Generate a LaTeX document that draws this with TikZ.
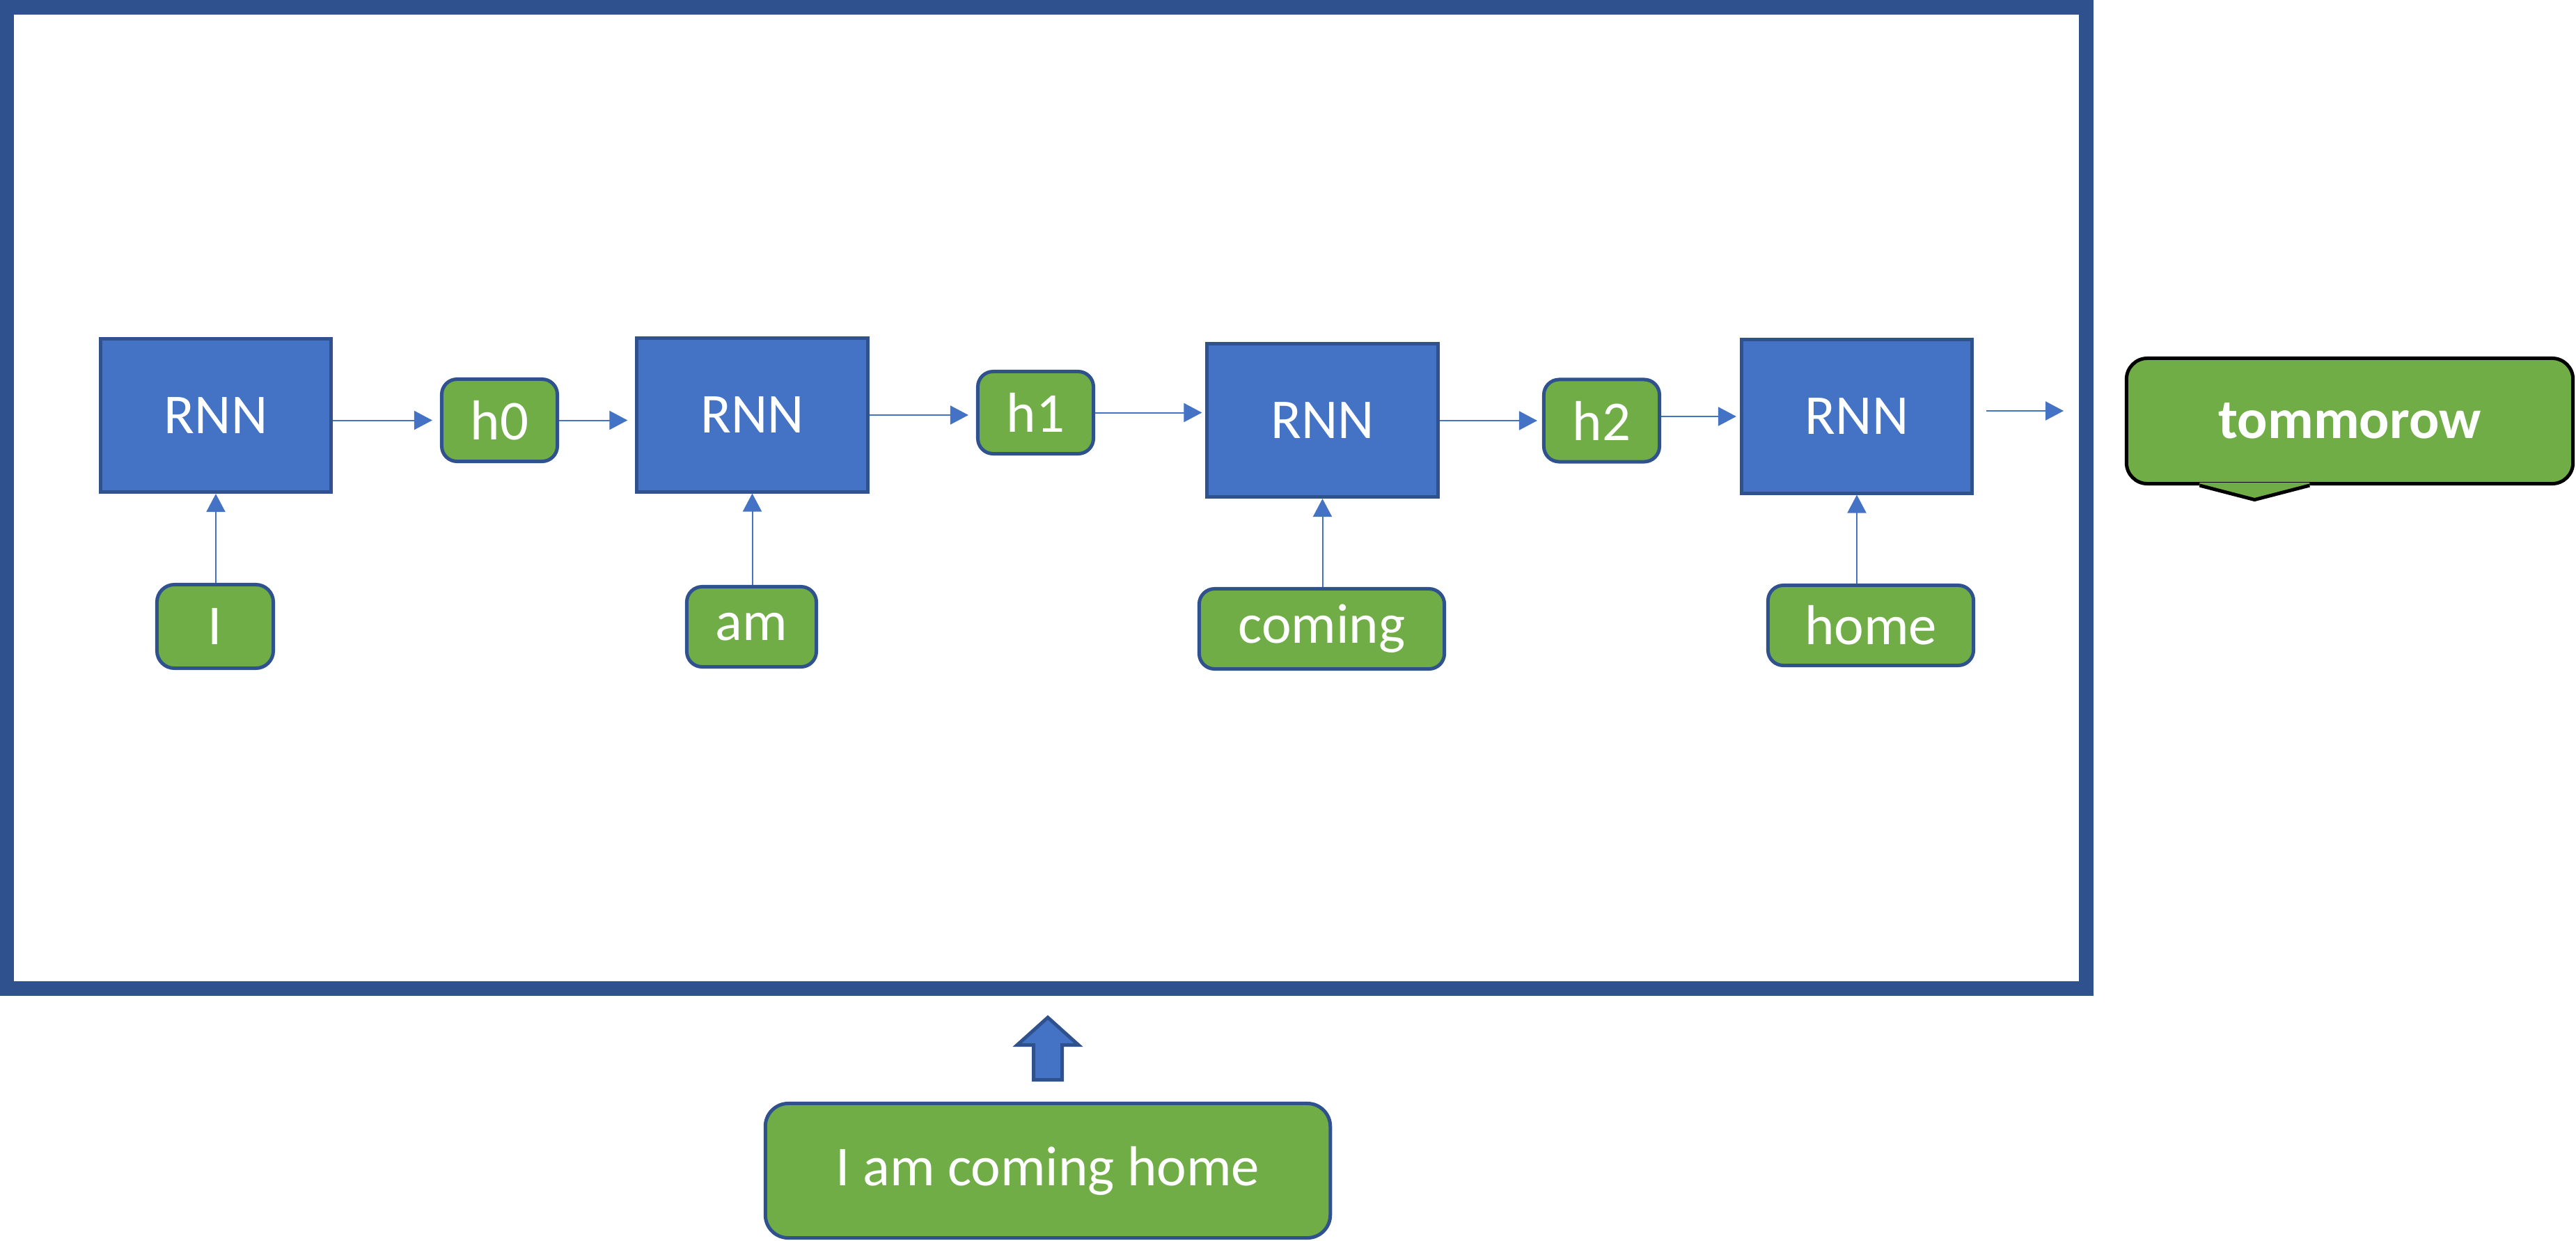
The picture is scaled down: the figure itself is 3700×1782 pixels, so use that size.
\documentclass[tikz,border=0pt]{standalone}
\usepackage{fontspec}
\setmainfont{Carlito}
\usetikzlibrary{arrows.meta}
\definecolor{rnnblue}{HTML}{4472C4}
\definecolor{edgeblue}{HTML}{2F528F}
\definecolor{wordgreen}{HTML}{70AD47}
\tikzset{
	rnn/.style={draw=edgeblue, line width=0.05cm, fill=rnnblue, text=white, minimum width=3.31cm, minimum height=2.20cm, inner sep=0pt, font=\fontsize{23}{27}\selectfont},
	word/.style={draw=edgeblue, line width=0.05cm, fill=wordgreen, text=white, rounded corners=0.22cm, minimum height=1.15cm, inner sep=0pt, font=\fontsize{23}{27}\selectfont},
	flow/.style={-{Triangle[length=0.26cm,width=0.27cm]}, draw=rnnblue, line width=0.02cm},
}

\begin{document}
\begin{tikzpicture}[x=0.01cm, y=-0.01cm]
			\useasboundingbox (0,0) rectangle (3700,1782);
			\node[draw=edgeblue, line width=0.21cm, minimum width=29.85cm, minimum height=14.09cm, inner sep=0pt] (frame) at (1503,715) {};
			\node[rnn] (r1) at (310,596.5) {RNN};
			\node[rnn] (r2) at (1080.5,596) {RNN};
			\node[rnn] (r3) at (1899.5,603.5) {RNN};
			\node[rnn] (r4) at (2667,598) {RNN};
			\node[word, minimum width=1.66cm, minimum height=1.18cm] (h0) at (717.5,603.5) {h0};
			\node[word, minimum width=1.66cm, minimum height=1.18cm] (h1) at (1487.5,592.5) {h1};
			\node[word, minimum width=1.66cm, minimum height=1.18cm] (h2) at (2300.5,604) {h2};
			\node[word, minimum width=1.67cm, minimum height=1.20cm, rounded corners=0.25cm] (w1) at (309,899.5) {I};
			\node[word, minimum width=1.86cm] (w2) at (1079.5,900) {am};
			\node[word, minimum width=3.52cm] (w3) at (1898.5,903) {coming};
			\node[word, minimum width=2.95cm] (w4) at (2687,898) {home};
			\coordinate (yout) at (2964,590);
			\draw[flow, shorten >=0.11cm] (r1.east |- h0) -- (h0.west);
			\draw[flow, shorten >=0.11cm] (h0.east) -- (r2.west |- h0.east);
			\draw[flow, shorten >=0.11cm] (r2.east) -- (h1.west |- r2.east);
			\draw[flow, shorten >=0.05cm] (h1.east) -- (r3.west |- h1.east);
			\draw[flow, shorten >=0.07cm] (r3.east |- h2) -- (h2.west);
			\draw[flow, shorten >=0.05cm] (h2.east |- r4) -- (r4.west);
			\draw[flow, shorten <=0.18cm] (r4.east |- yout) -- (yout);
			\draw[flow] (w1.north -| r1.south) -- (r1.south);
			\draw[flow] (w2.north -| r2.south) -- (r2.south);
			\draw[flow] (w3.north -| r3.south) -- (r3.south);
			\draw[flow] (w4.north -| r4.south) -- (r4.south);
			\node[draw=black, line width=0.05cm, fill=wordgreen, text=white, rounded corners=0.3cm, minimum width=6.41cm, minimum height=1.80cm, inner sep=0pt, font=\fontsize{23}{27}\selectfont\bfseries] (tmrw) at (3375,604.5) {tommorow};
			\fill[wordgreen] (tmrw.south west) ++(107.5,-4) -- ++(0,4) -- ++(79,20.5) -- ++(79,-20.5) -- ++(0,-4) -- cycle;
			\draw[black, line width=0.05cm] (tmrw.south west) ++(107.5,0) -- ++(79,20.5) -- ++(79,-20.5);
			\node[word, minimum width=8.11cm, minimum height=1.93cm, rounded corners=0.33cm] (sent) at (1505,1681) {I am coming home};
			\draw[edgeblue, fill=rnnblue, line width=0.05cm] (1505,1461) -- (1549,1500.5) -- (1525.5,1500.5) -- (1525.5,1550.5) -- (1484.5,1550.5) -- (1484.5,1500.5) -- (1461,1500.5) -- cycle;
		\end{tikzpicture}
\end{document}
